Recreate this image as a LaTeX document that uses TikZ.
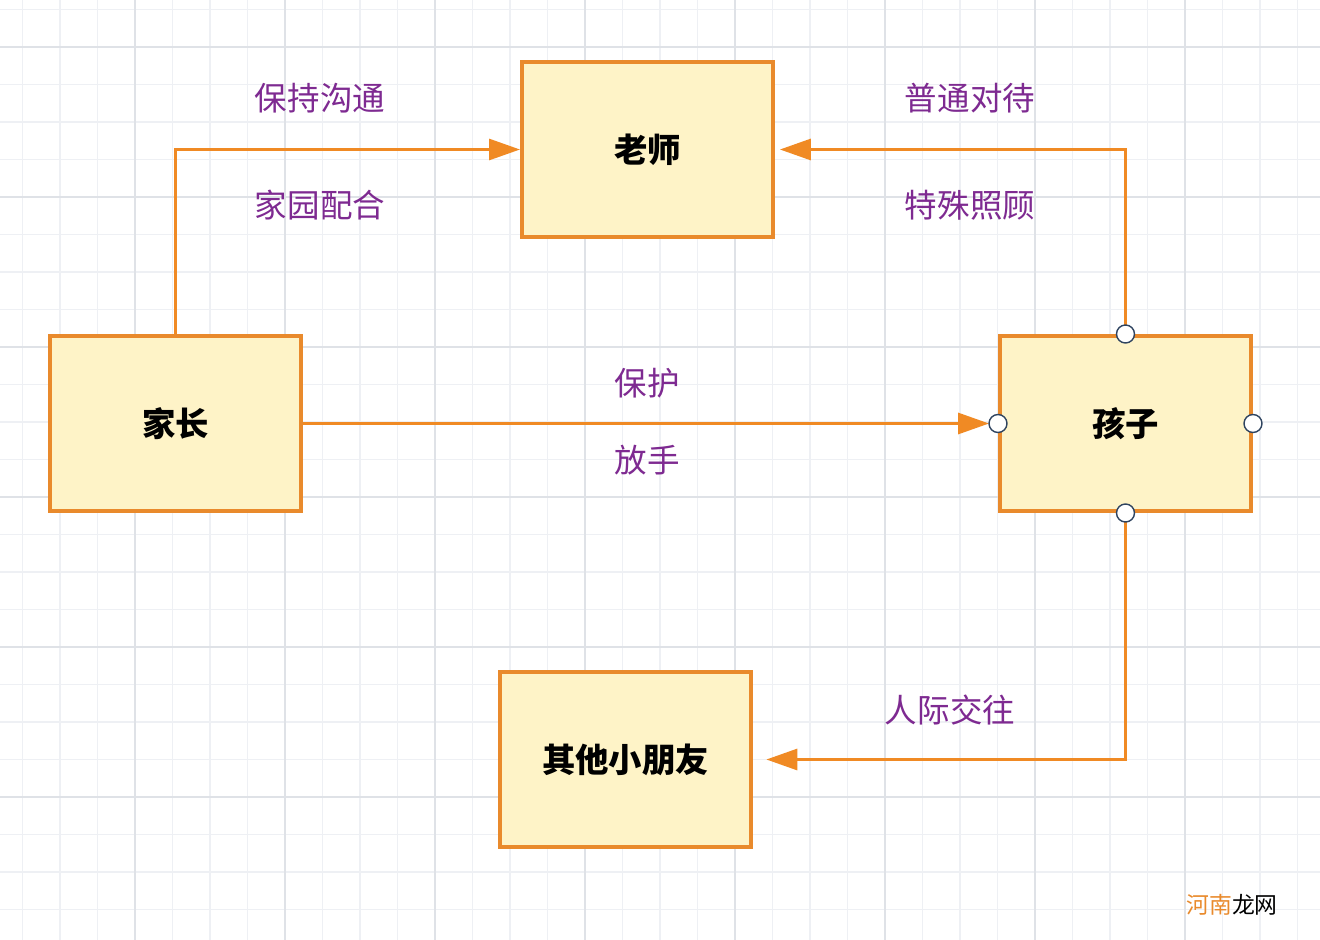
\documentclass[tikz,border=0pt]{standalone}
\usepackage{fontspec}
\setmainfont{Noto Sans CJK SC}
\usetikzlibrary{arrows.meta}
\definecolor{boxfill}{HTML}{FEF3C7}
\definecolor{boxline}{HTML}{E98A2C}
\definecolor{linkline}{HTML}{F08A24}
\definecolor{labeltext}{HTML}{7E2A91}
\definecolor{gridminor}{HTML}{EEF0F4}
\definecolor{gridmajor}{HTML}{DFE2E7}
\definecolor{portline}{HTML}{2F4460}
\tikzset{
  role/.style={draw=boxline, line width=2.3pt, fill=boxfill, minimum width=5.02cm,
    minimum height=3.5cm, inner sep=0pt, font=\fontsize{19}{19}\selectfont\bfseries},
  link/.style={draw=linkline, line width=1.7pt, -{Triangle[length=0.62cm,width=0.42cm]}},
  tag/.style={text=labeltext, font=\fontsize{18.5}{18.5}\selectfont},
  port/.style={circle, draw=portline, fill=white, line width=0.8pt, minimum size=0.36cm, inner sep=0pt}
}
\begin{document}
\begin{tikzpicture}[x=0.02cm,y=-0.02cm]
	\useasboundingbox (0,0) rectangle (1320,940);
	\fill [white] (0,0) rectangle (1320,940);
	% grid
	\foreach \gx in {22.5,60,...,1320} \draw [gridminor, line width=0.6pt] (\gx,0) -- (\gx,940);
	\foreach \gy in {9.5,47,...,940} \draw [gridminor, line width=0.6pt] (0,\gy) -- (1320,\gy);
	\foreach \gx in {135,285,...,1320} \draw [gridmajor, line width=0.7pt] (\gx,0) -- (\gx,940);
	\foreach \gy in {47,197,...,940} \draw [gridmajor, line width=0.7pt] (0,\gy) -- (1320,\gy);
	% boxes
	\node [role] (laoshi) at (647.5,149.5) {老师};
	\node [role] (jiazhang) at (175.5,423.5) {家长};
	\node [role] (haizi) at (1125.5,423.5) {孩子};
	\node [role] (pengyou) at (625.5,759.5) {其他小朋友};
	% links
	\draw [link] (jiazhang.north) |- (laoshi.west);
	\draw [link, shorten >=2.8pt] (haizi.north) |- (laoshi.east);
	\draw [link, shorten >=5.1pt] (jiazhang.east) -- (haizi.west);
	\draw [link, shorten >=7.6pt] (haizi.south) |- (pengyou.east);
	% ports
	\node [port] (pn) at (haizi.north) {};
	\node [port] (ps) at (haizi.south) {};
	\node [port] (pw) at (haizi.west) {};
	\node [port] (pe) at (haizi.east) {};
	% labels
	\node [tag] (goutong) at (320,98) {保持沟通};
	\node [tag] (peihe) at (320,205) {家园配合};
	\node [tag] (putong) at (970,98) {普通对待};
	\node [tag] (teshu) at (970,205) {特殊照顾};
	\node [tag] (baohu) at (647,383) {保护};
	\node [tag] (fangshou) at (647,460) {放手};
	\node [tag] (jiaowang) at (950,710) {人际交往};
	\node [font=\fontsize{13}{13}\selectfont] (mark) at (1232,905) {\textcolor{boxline}{河南}龙网};
\end{tikzpicture}
\end{document}
